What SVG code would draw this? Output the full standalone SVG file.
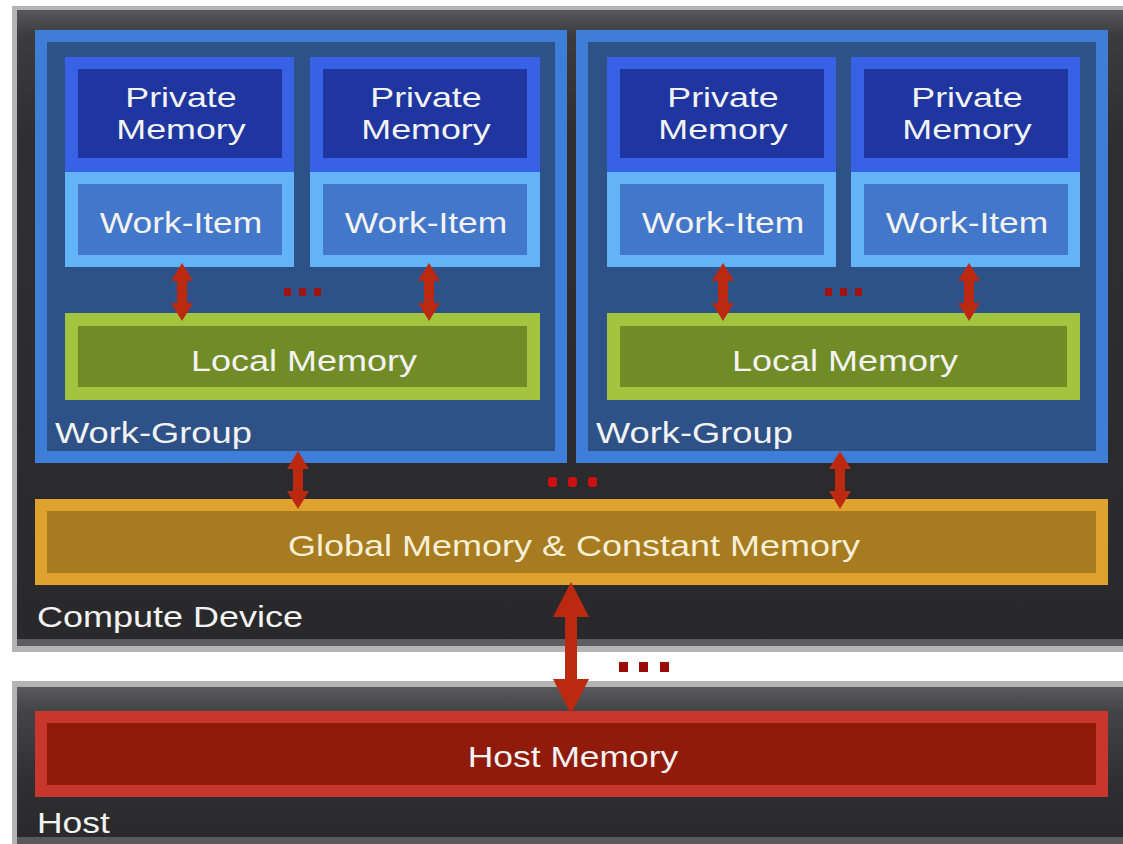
<svg xmlns="http://www.w3.org/2000/svg" xmlns:xlink="http://www.w3.org/1999/xlink" width="1123" height="844" viewBox="0 0 1123 844">
<defs>
<linearGradient id="gDev" x1="0" y1="0" x2="0" y2="1">
<stop offset="0" stop-color="#58585a"/>
<stop offset="0.04" stop-color="#3c3c3e"/>
<stop offset="0.2" stop-color="#2f2f31"/>
<stop offset="1" stop-color="#29292b"/>
</linearGradient>
<linearGradient id="gHost" x1="0" y1="0" x2="0" y2="1">
<stop offset="0" stop-color="#5a5a5c"/>
<stop offset="0.15" stop-color="#444446"/>
<stop offset="0.6" stop-color="#2f2f31"/>
<stop offset="1" stop-color="#29292b"/>
</linearGradient>
<path id="dbl" d="M0,-29 L11,-11 L5,-11 L5,11 L11,11 L0,29 L-11,11 L-5,11 L-5,-11 L-11,-11 Z"/>
<style>
text{font-family:"Liberation Sans",Arial,sans-serif;fill:#f3f3f3;font-size:30px}
.mid{text-anchor:middle}
.pm{font-size:28px}
.wgO{fill:#3f7ed8}.wgI{fill:#2e5288}
.pO{fill:#3762e6}.pI{fill:#1f36a0}
.wiO{fill:#62b3f7}.wiI{fill:#4377c9}
.lO{fill:#a3c43f}.lI{fill:#718c26}
.gO{fill:#e0a22e}.gI{fill:#a77b1f}
.hO{fill:#c9362b}.hI{fill:#901b0b}
.arr{fill:#bb2a10}
.dot{fill:#a01414}
.dotB{fill:#cc1111}
</style>
</defs>
<rect x="0" y="0" width="1123" height="844" fill="#ffffff"/>

<g id="compute-device">
<rect x="12" y="6" width="1111" height="646" fill="#b4b4b4"/>
<rect x="17" y="10" width="1106" height="630" fill="url(#gDev)"/>
<rect x="17" y="639" width="1106" height="7" fill="#5e5e60"/>
<text transform="translate(37,627) scale(1.2,1)">Compute Device</text>
</g>

<g id="host">
<rect x="12" y="681" width="1111" height="163" fill="#b4b4b4"/>
<rect x="17" y="687" width="1106" height="157" fill="url(#gHost)"/>
<rect x="17" y="837" width="1106" height="7" fill="#59595b"/>
<text transform="translate(37,833) scale(1.18,1)">Host</text>
</g>

<g id="work-group-1">
<rect class="wgO" x="35" y="30" width="532" height="433"/>
<rect class="wgI" x="47" y="42" width="508" height="409"/>
<text transform="translate(55,443) scale(1.21,1)">Work-Group</text>
</g>
<g id="work-group-2">
<rect class="wgO" x="576" y="30" width="532" height="433"/>
<rect class="wgI" x="588" y="42" width="508" height="409"/>
<text transform="translate(596,443) scale(1.21,1)">Work-Group</text>
</g>

<g id="private-memory-1-1">
<rect class="pO" x="65" y="57" width="229" height="115"/>
<rect class="pI" x="78" y="69" width="204" height="89"/>
<text class="mid pm" transform="translate(181,107) scale(1.28,1)">Private</text>
<text class="mid pm" transform="translate(181,139) scale(1.28,1)">Memory</text>
</g>
<g id="private-memory-1-2">
<rect class="pO" x="310" y="57" width="230" height="115"/>
<rect class="pI" x="323" y="69" width="204" height="89"/>
<text class="mid pm" transform="translate(426,107) scale(1.28,1)">Private</text>
<text class="mid pm" transform="translate(426,139) scale(1.28,1)">Memory</text>
</g>
<g id="private-memory-2-1">
<rect class="pO" x="607" y="57" width="229" height="115"/>
<rect class="pI" x="620" y="69" width="204" height="89"/>
<text class="mid pm" transform="translate(723,107) scale(1.28,1)">Private</text>
<text class="mid pm" transform="translate(723,139) scale(1.28,1)">Memory</text>
</g>
<g id="private-memory-2-2">
<rect class="pO" x="851" y="57" width="229" height="115"/>
<rect class="pI" x="864" y="69" width="204" height="89"/>
<text class="mid pm" transform="translate(967,107) scale(1.28,1)">Private</text>
<text class="mid pm" transform="translate(967,139) scale(1.28,1)">Memory</text>
</g>

<g id="work-item-1-1">
<rect class="wiO" x="65" y="172" width="229" height="95"/>
<rect class="wiI" x="78" y="184" width="204" height="71"/>
<text class="mid" transform="translate(181,233) scale(1.18,1)">Work-Item</text>
</g>
<g id="work-item-1-2">
<rect class="wiO" x="310" y="172" width="230" height="95"/>
<rect class="wiI" x="323" y="184" width="204" height="71"/>
<text class="mid" transform="translate(426,233) scale(1.18,1)">Work-Item</text>
</g>
<g id="work-item-2-1">
<rect class="wiO" x="607" y="172" width="229" height="95"/>
<rect class="wiI" x="620" y="184" width="204" height="71"/>
<text class="mid" transform="translate(723,233) scale(1.18,1)">Work-Item</text>
</g>
<g id="work-item-2-2">
<rect class="wiO" x="851" y="172" width="229" height="95"/>
<rect class="wiI" x="864" y="184" width="204" height="71"/>
<text class="mid" transform="translate(967,233) scale(1.18,1)">Work-Item</text>
</g>

<g id="local-memory-1">
<rect class="lO" x="65" y="313" width="475" height="87"/>
<rect class="lI" x="78" y="326" width="449" height="61"/>
<text class="mid" transform="translate(304,371) scale(1.2,1)">Local Memory</text>
</g>
<g id="local-memory-2">
<rect class="lO" x="607" y="313" width="473" height="87"/>
<rect class="lI" x="620" y="326" width="447" height="61"/>
<text class="mid" transform="translate(845,371) scale(1.2,1)">Local Memory</text>
</g>

<g id="global-memory">
<rect class="gO" x="35" y="499" width="1073" height="86"/>
<rect class="gI" x="47" y="511" width="1049" height="62"/>
<text class="mid" transform="translate(574,556) scale(1.2,1)" style="fill:#f6efd6">Global Memory &amp; Constant Memory</text>
</g>

<g id="host-memory">
<rect class="hO" x="35" y="711" width="1073" height="86"/>
<rect class="hI" x="47" y="723" width="1049" height="62"/>
<text class="mid" transform="translate(573,767) scale(1.18,1)">Host Memory</text>
</g>

<g id="connectors">
<use xlink:href="#dbl" href="#dbl" class="arr" transform="translate(182,292)"/>
<use xlink:href="#dbl" href="#dbl" class="arr" transform="translate(429,292)"/>
<use xlink:href="#dbl" href="#dbl" class="arr" transform="translate(723,292)"/>
<use xlink:href="#dbl" href="#dbl" class="arr" transform="translate(969,292)"/>
<use xlink:href="#dbl" href="#dbl" class="arr" transform="translate(298,480)"/>
<use xlink:href="#dbl" href="#dbl" class="arr" transform="translate(840,480)"/>
<polygon class="arr" points="571,582 589,617 577,617 577,679 589,679 571,714 553,679 565,679 565,617 553,617"/>
</g>

<g id="ellipses">
<rect class="dot" x="284" y="288" width="7" height="8"/>
<rect class="dot" x="299" y="288" width="7" height="8"/>
<rect class="dot" x="314" y="288" width="7" height="8"/>
<rect class="dot" x="825" y="288" width="7" height="8"/>
<rect class="dot" x="840" y="288" width="7" height="8"/>
<rect class="dot" x="855" y="288" width="7" height="8"/>
<rect class="dotB" x="548" y="477" width="9" height="10" rx="3"/>
<rect class="dotB" x="568" y="477" width="9" height="10" rx="3"/>
<rect class="dotB" x="588" y="477" width="9" height="10" rx="3"/>
<rect fill="#9a0c0c" x="619" y="662" width="9" height="10"/>
<rect fill="#9a0c0c" x="639" y="662" width="9" height="10"/>
<rect fill="#9a0c0c" x="660" y="662" width="9" height="10"/>
</g>
</svg>
